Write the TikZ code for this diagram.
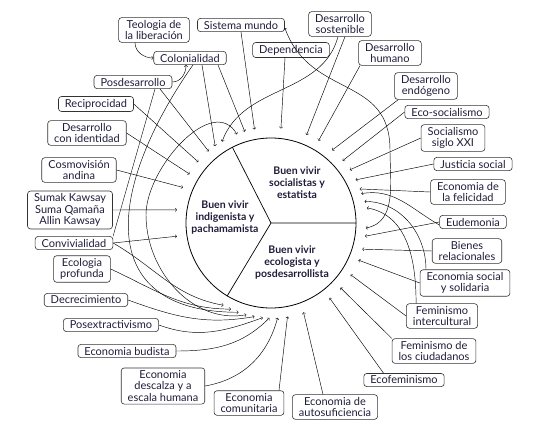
\documentclass[tikz,border=0pt]{standalone}
\usepackage{fontspec}
\setmainfont{Lato}
\usetikzlibrary{calc}
\definecolor{ink}{HTML}{1F1D3A}

\begin{document}
\begin{tikzpicture}[x=1pt,y=-1pt,
  idea/.style={draw=black!80, rounded corners=3pt, align=center, text=ink,
    inner xsep=6.5pt, inner ysep=2.5pt, line width=0.6pt,
    font=\fontsize{11}{11.5}\selectfont},
  link/.style={->, line width=0.45pt},
  bvtext/.style={align=center, text=ink, font=\fontsize{10.5}{12}\selectfont\bfseries}]
\useasboundingbox (0,0) rectangle (533,429);
% Wheel
\coordinate (c) at (271,223);
\node [circle, draw, line width=0.8pt, minimum size=170pt, inner sep=0pt] (bv) at (c) {};
\draw [line width=0.7pt] (c) -- (bv.0) (c) -- (bv.117) (c) -- (bv.239);
\node [bvtext] (socialista) at (297,183) {Buen vivir\\socialistas y\\estatista};
\node [bvtext] (indigena) at (225,217) {Buen vivir\\indigenista y\\pachamamista};
\node [bvtext] (ecologista) at (292,262) {Buen vivir\\ecologista y\\posdesarrollista};
% Arrow ends round the wheel
\foreach \a in {18,21,27,34,41,50,60,68,84,100,106,111,121,126,131,140,149,158,172,188,
  240,245,250,255,260,265,269,274,280,290,308,317,327,337,344,352,357}
  \coordinate (r\a) at ($(c)+(\a:95pt)$);
\coordinate (r13) at ($(c)+(13:96pt)$);
\coordinate (r9) at ($(c)+(9:97pt)$);
\coordinate (westarc) at (146,215);
%
\node [idea] (teologia) at (154,30) {Teologia de\\la liberación};
\node [idea] (sistema) at (241,25) {Sistema mundo};
\node [idea] (sostenible) at (340,24) {Desarrollo\\sostenible};
\node [idea] (dependencia) at (291,50) {Dependencia};
\node [idea] (colonialidad) at (190,58) {Colonialidad};
\node [idea] (humano) at (390,53) {Desarrollo\\humano};
\node [idea] (endogeno) at (426,86) {Desarrollo\\endógeno};
\node [idea] (ecosoc) at (447,112) {Eco-socialismo};
\node [idea] (socxxi) at (453,138) {Socialismo\\siglo XXI};
\node [idea] (justicia) at (473,164) {Justicia social};
\node [idea] (felicidad) at (468,192) {Economia de\\la felicidad};
\node [idea] (eudemonia) at (473,222) {Eudemonia};
\node [idea] (bienes) at (467,251) {Bienes\\relacionales};
\node [idea] (solidaria) at (465,283) {Economia social\\y solidaria};
\node [idea] (femintercult) at (442,316) {Feminismo\\intercultural};
\node [idea] (femciud) at (434,351) {Feminismo de\\los ciudadanos};
\node [idea] (ecofem) at (404,380) {Ecofeminismo};
\node [idea] (autosuf) at (335,407) {Economia de\\autosuficiencia};
\node [idea] (comunitaria) at (249,403) {Economia\\comunitaria};
\node [idea] (descalza) at (163,386) {Economia\\descalza y a\\escala humana};
\node [idea] (budista) at (127,351) {Economia budista};
\node [idea] (posextr) at (111,325) {Posextractivismo};
\node [idea] (decrec) at (86,300) {Decrecimiento};
\node [idea] (ecoprof) at (82,269) {Ecologia\\profunda};
\node [idea] (convivial) at (74,243) {Convivialidad};
\node [idea] (sumak) at (70,210) {Sumak Kawsay\\Suma Qamaña\\Allin Kawsay};
\node [idea] (cosmo) at (79,170) {Cosmovisión\\andina};
\node [idea] (identidad) at (87,133) {Desarrollo\\con identidad};
\node [idea] (recipro) at (96,104) {Reciprocidad};
\node [idea] (posdes) at (133,82) {Posdesarrollo};
% Top and left
\draw [link] ([xshift=-19pt]teologia.south) to [out=270,in=180] (colonialidad.west);
\draw [link] (posdes.east) to [out=0,in=270] ([xshift=-4pt]colonialidad.south);
\draw [link] ([xshift=27pt]posdes.south) -- (r131);
\draw ([xshift=22pt]posdes.south) -- (convivial.north east);
\draw [link] (recipro.east) -- (r140);
\draw [link] (identidad.east) -- (r149);
\draw [link] (cosmo.east) -- (r158);
\draw [link] (sumak.east) -- (r172);
\draw [link] (convivial.east) -- (r188);
\draw [link] ([xshift=12pt]colonialidad.south) -- (r126);
\draw [link] ([xshift=28pt]colonialidad.south) -- (r106);
\draw [link] ([xshift=3pt]colonialidad.south) to [out=235,in=180,looseness=1.5] (r250);
\draw [link] (sistema.south) -- (r100);
\draw [link] ([xshift=-6pt]dependencia.south) -- (r84);
\draw [link] ([xshift=5pt]sostenible.south) -- (r68);
\draw [link] ([xshift=-2pt]sostenible.south) to [out=255,in=70] (r121);
\draw [<->, line width=0.45pt] (r111) to [out=120,in=90] (westarc) to [out=270,in=190] (r255);
\draw [<->, line width=0.45pt] ([yshift=-3pt]sistema.east) to [out=-70,in=90,looseness=1.2] (390,150) to [out=270,in=10] (r357);
% Right
\draw [link] ([xshift=-30pt]humano.south) -- (r60);
\draw [link] ([xshift=4pt]endogeno.south west) -- (r50);
\draw [link] (ecosoc.west) -- (r41);
\draw [link] (socxxi.west) -- (r34);
\draw [link] (justicia.west) -- (r27);
\draw [link] (felicidad.west) -- (r21);
\draw [link] ([yshift=-3pt]eudemonia.west) to [out=150,in=10] (r18);
\draw [link] ([xshift=-39pt]solidaria.north) to [out=90,in=0] (r13);
\draw [link] ([xshift=10pt]femintercult.north west) to [out=90,in=-10] (r9);
\draw [link] (eudemonia.west) -- (r352);
\draw [link] (bienes.west) -- (r344);
\draw [link] (solidaria.west) -- (r337);
\draw [link] (femintercult.west) -- (r327);
\draw [link] (femciud.north west) -- (r317);
\draw [link] ([xshift=20pt]ecofem.north west) -- (r308);
% Bottom
\draw [link] ([xshift=-12pt]autosuf.north) -- (r290);
\draw [link] ([xshift=30pt]comunitaria.north) -- (r280);
\draw [link] (descalza.east) to [out=10,in=255] (r274);
\draw [link] (budista.east) to [out=0,in=225] (r269);
\draw [link] (posextr.east) to [out=-20,in=200] (r265);
\draw [link] (decrec.east) to [out=-20,in=190] (r260);
\draw [link] (ecoprof.east) to [out=-25,in=180] (r245);
\draw [link] (convivial.east) to [out=-30,in=170] (r240);
\end{tikzpicture}
\end{document}
